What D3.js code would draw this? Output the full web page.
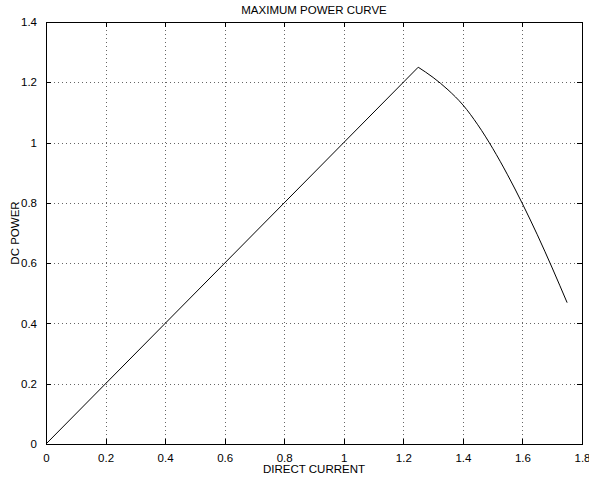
<!DOCTYPE html>
<html>
<head>
<meta charset="utf-8">
<script src="https://cdn.jsdelivr.net/npm/d3@7"></script>
<style>
    body { margin: 0; background: #fff; }
    text { font-family: "Liberation Sans", Arial, Helvetica, sans-serif; fill: #000; }
    .axis path, .axis line { stroke: #000; shape-rendering: crispEdges; }
    .grid line { stroke: #666; stroke-dasharray: 1,3; shape-rendering: crispEdges; }
</style>
</head>
<body>
<div id="chart"></div>
<script>
// data
const current = [0, 1.25, 1.30, 1.35, 1.40, 1.45, 1.50, 1.55, 1.60, 1.65, 1.70, 1.75];
const power   = [0, 1.25, 1.216, 1.175, 1.125, 1.059, 0.981, 0.893, 0.797, 0.694, 0.584, 0.469];
const xTicks = [0, 0.2, 0.4, 0.6, 0.8, 1, 1.2, 1.4, 1.6, 1.8];
const yTicks = [0, 0.2, 0.4, 0.6, 0.8, 1, 1.2, 1.4];

const WIDTH = 589;
const HEIGHT = 482;
const margin = {top: 22, right: 7, bottom: 38, left: 46};
const width = WIDTH - margin.left - margin.right;
const height = HEIGHT - margin.top - margin.bottom;

const svg = d3.select("#chart").append("svg")
    .attr("width", WIDTH)
    .attr("height", HEIGHT);

const g = svg.append("g")
    .attr("transform", "translate(" + margin.left + "," + margin.top + ")");

const x = d3.scaleLinear().domain([0, 1.8]).range([0, width]);
const y = d3.scaleLinear().domain([0, 1.4]).range([height, 0]);

// dotted grid
g.append("g").attr("class", "grid")
    .selectAll("line")
    .data(xTicks.slice(1, -1))
    .enter().append("line")
    .attr("x1", d => Math.round(x(d)) + 0.5)
    .attr("x2", d => Math.round(x(d)) + 0.5)
    .attr("y1", 0)
    .attr("y2", height);

g.append("g").attr("class", "grid")
    .selectAll("line")
    .data(yTicks.slice(1, -1))
    .enter().append("line")
    .attr("y1", d => Math.round(y(d)) + 0.5)
    .attr("y2", d => Math.round(y(d)) + 0.5)
    .attr("x1", 0)
    .attr("x2", width);

const fmt = d => String(d);

// axes, ticks pointing inward
g.append("g").attr("class", "axis")
    .attr("transform", "translate(0," + height + ")")
    .call(d3.axisBottom(x).tickValues(xTicks).tickFormat(fmt).tickSizeInner(-5).tickSizeOuter(0).tickPadding(10))
    .selectAll("text").style("font-size", "11.5px");

g.append("g").attr("class", "axis")
    .call(d3.axisLeft(y).tickValues(yTicks).tickFormat(fmt).tickSizeInner(-5).tickSizeOuter(0).tickPadding(9))
    .selectAll("text").style("font-size", "11.5px");

g.append("g").attr("class", "axis")
    .call(d3.axisTop(x).tickValues(xTicks).tickFormat("").tickSizeInner(-5).tickSizeOuter(0));

g.append("g").attr("class", "axis")
    .attr("transform", "translate(" + width + ",0)")
    .call(d3.axisRight(y).tickValues(yTicks).tickFormat("").tickSizeInner(-5).tickSizeOuter(0));

g.selectAll(".axis .domain").style("stroke-width", 1.2);

// the curve: straight rise up to the peak, smooth fall after it
const pts = current.map((c, i) => [c, power[i]]);
const peak = d3.maxIndex(power);
const line = d3.line().x(d => x(d[0])).y(d => y(d[1]));

g.append("path")
    .datum(pts.slice(0, peak + 1))
    .attr("fill", "none")
    .attr("stroke", "#000")
    .attr("stroke-width", 1)
    .attr("d", line);

g.append("path")
    .datum(pts.slice(peak))
    .attr("fill", "none")
    .attr("stroke", "#000")
    .attr("stroke-width", 1)
    .attr("d", line.curve(d3.curveMonotoneX));

// labels
svg.append("text")
    .attr("x", margin.left + width / 2)
    .attr("y", 14)
    .attr("text-anchor", "middle")
    .style("font-size", "11.5px")
    .text("MAXIMUM POWER CURVE");

svg.append("text")
    .attr("x", margin.left + width / 2)
    .attr("y", 473)
    .attr("text-anchor", "middle")
    .style("font-size", "11.5px")
    .text("DIRECT CURRENT");

svg.append("text")
    .attr("transform", "translate(19," + (margin.top + height / 2) + ") rotate(-90)")
    .attr("text-anchor", "middle")
    .style("font-size", "11.5px")
    .text("DC POWER");
</script>
</body>
</html>
